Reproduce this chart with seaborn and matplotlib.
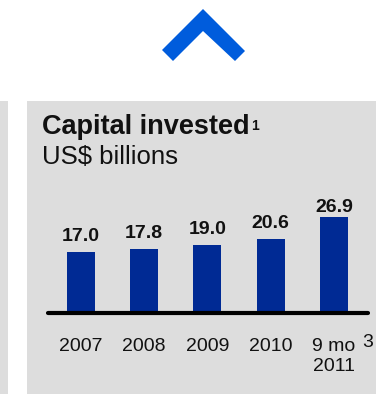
import matplotlib
matplotlib.use("Agg")
import matplotlib.pyplot as plt
from matplotlib.patches import Rectangle, Polygon
import seaborn as sns
import pandas as pd

# Capital invested per period, US$ billions
periods = ["2007", "2008", "2009", "2010", "9 mo\n2011"]
capital = [17.0, 17.8, 19.0, 20.6, 26.9]
value_labels = ["17.0", "17.8", "19.0", "20.6", "26.9"]
label_gap_pt = [8, 8, 8, 8, 3]

title = "Capital invested"
title_note = "1"
subtitle = "US$ billions"
period_note = "3"

BAR_BLUE = "#002A94"
PANEL_GREY = "#DDDDDD"
ARROW_BLUE = "#005CDC"

sns.set_theme(style="white")
plt.rcParams["font.family"] = ["Liberation Sans", "DejaVu Sans"]

W, H = 376, 394
fig = plt.figure(figsize=(W / 100, H / 100), dpi=100, facecolor="white")


def fx(px):
    return px / W


def fy(py):
    return 1 - py / H


# grey card panels
fig.patches.append(Rectangle((fx(0), fy(H)), fx(8), (H - 101) / H,
                             transform=fig.transFigure, facecolor=PANEL_GREY,
                             edgecolor="none", zorder=-2))
fig.patches.append(Rectangle((fx(27), fy(H)), fx(W - 27), (H - 101) / H,
                             transform=fig.transFigure, facecolor=PANEL_GREY,
                             edgecolor="none", zorder=-2))

# chevron
chev = [(162, 50), (203, 9), (245, 51), (235, 61), (203, 31), (173, 61)]
fig.patches.append(Polygon([(fx(x), fy(y)) for x, y in chev], closed=True,
                           transform=fig.transFigure, facecolor=ARROW_BLUE,
                           edgecolor="none", zorder=-1))

# headings
fig.text(fx(42), fy(134.5), title, fontsize=19.5, fontweight="bold",
         color="#111111", ha="left", va="baseline")
fig.text(fx(251), fy(130.5), title_note, fontsize=10, fontweight="bold",
         color="#111111", ha="left", va="baseline")
fig.text(fx(42), fy(164.5), subtitle, fontsize=18.5, color="#111111",
         ha="left", va="baseline")

# bar chart
ax = fig.add_axes([fx(48), fy(313), fx(368 - 48), (313 - 200) / H])
ax.set_zorder(5)
ax.patch.set_visible(False)
df = pd.DataFrame({"period": periods, "capital": capital})
sns.barplot(data=df, x="period", y="capital", color=BAR_BLUE, width=0.443,
            saturation=1, edgecolor="none", linewidth=0, ax=ax, zorder=2)
ax.set_xlim(-0.52, 4.54)
ax.set_ylim(0, 31.5)
ax.set_xlabel("")
ax.set_ylabel("")
ax.set_yticks([])
for side in ["top", "right", "left"]:
    ax.spines[side].set_visible(False)
ax.spines["bottom"].set_color("black")
ax.spines["bottom"].set_linewidth(3)
ax.spines["bottom"].set_capstyle("round")
ax.spines["bottom"].set_zorder(3)
ax.tick_params(axis="x", length=0, pad=18, labelsize=14, labelcolor="#111111")

for i, (v, lab, gap) in enumerate(zip(capital, value_labels, label_gap_pt)):
    ax.annotate(lab, xy=(i, v), xytext=(0, gap), textcoords="offset points",
                ha="center", va="baseline", fontsize=14, fontweight="bold",
                color="#111111")

# footnote marker on the last period label
ax.annotate(period_note, xy=(4, 0), xycoords="data", xytext=(20.5, -15),
            textcoords="offset points", ha="left", va="top", fontsize=14,
            color="#111111", annotation_clip=False)

fig.savefig("out.png", dpi=100, facecolor=fig.get_facecolor())
